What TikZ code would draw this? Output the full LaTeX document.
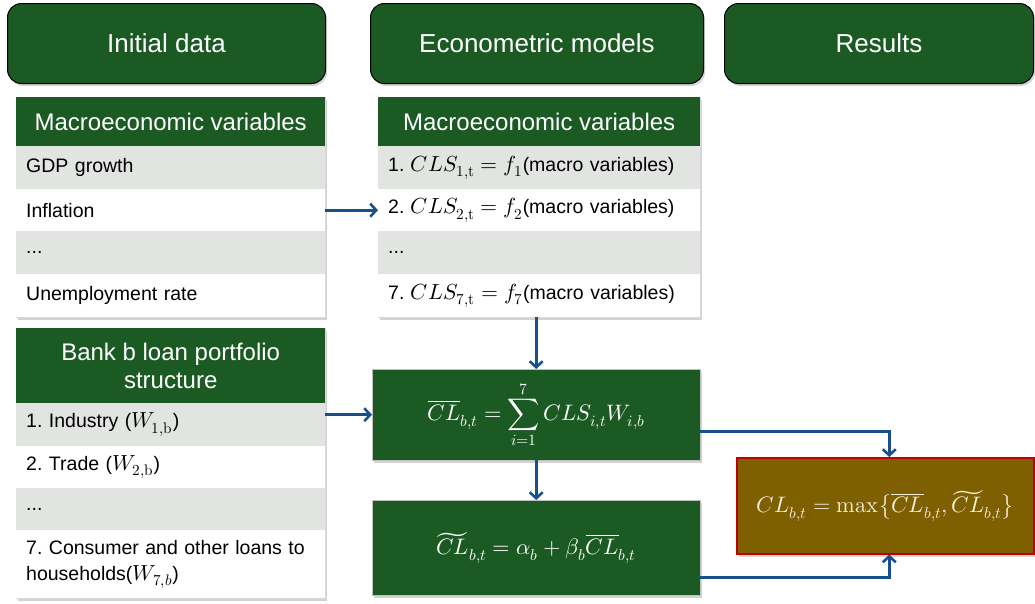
\documentclass[tikz,border=0pt]{standalone}
\usepackage{amsmath}
\usepackage{fontspec}
\usepackage{unicode-math}
\setmainfont{Liberation Sans}
\setmathfont{Latin Modern Math}[Scale=1.12]
\frenchspacing
\usetikzlibrary{arrows.meta,shadows}
\definecolor{dgreen}{HTML}{1C5A24}
\definecolor{rowgray}{HTML}{E1E4E1}
\definecolor{arrblue}{HTML}{18508C}
\definecolor{olivebox}{HTML}{7F6000}
\definecolor{redb}{HTML}{C00000}
\definecolor{cream}{HTML}{F3EEDC}
\newcommand{\mymax}{\mathop{\symup{max}}\nolimits}
\tikzset{
  hdr/.style={draw=black, line width=1pt, fill=dgreen, rounded corners=14pt, text=white,
    font=\fontsize{26}{30}\selectfont, anchor=north west, inner sep=0pt,
    drop shadow={shadow xshift=1.5pt, shadow yshift=-2.5pt, opacity=0.35}},
  tbg/.style={fill=white, draw=black!15, anchor=north west, inner sep=0pt,
    drop shadow={shadow xshift=2pt, shadow yshift=-3pt, opacity=0.35}},
  thead/.style={fill=dgreen, text=white, anchor=north west, inner sep=0pt, align=center,
    font=\fontsize{24}{28}\selectfont},
  cellg/.style={fill=rowgray, anchor=north west, inner xsep=10pt, inner ysep=0pt, align=left,
    font=\fontsize{19.5}{26}\selectfont},
  cellw/.style={cellg, fill=white},
  gbox/.style={fill=dgreen, draw=black!25, anchor=north west, inner sep=0pt, text=white,
    font=\fontsize{20}{24}\selectfont,
    drop shadow={shadow xshift=2pt, shadow yshift=-3pt, opacity=0.35}},
  rbox/.style={fill=olivebox, draw=redb, line width=1.5pt, anchor=north west, inner sep=0pt, text=cream,
    font=\fontsize{20}{24}\selectfont,
    drop shadow={shadow xshift=2pt, shadow yshift=-3pt, opacity=0.35}},
  arr/.style={draw=arrblue, line width=2.6pt, -{Straight Barb[length=6pt,width=13pt]}},
}
\begin{document}
\begin{tikzpicture}[x=1pt,y=-1pt]
\useasboundingbox (0,0) rectangle (1035,603);
% column headers
\node[hdr, minimum width=318pt, minimum height=80pt] (h1) at (7,3) {Initial data};
\node[hdr, minimum width=333pt, minimum height=80pt] (h2) at (370,3) {Econometric models};
\node[hdr, minimum width=309pt, minimum height=80pt] (h3) at (724,3) {Results};
% table 1
\node[tbg, minimum width=309pt, minimum height=220pt] (t1) at (16,97) {};
\node[thead, minimum width=309pt, minimum height=49pt] (t1h) at (16,97) {Macroeconomic variables};
\node[cellg, text width=289pt, minimum height=43pt] (t1a) at (16,146) {GDP growth};
\node[cellw, text width=289pt, minimum height=42pt] (t1b) at (16,189) {Inflation};
\node[cellg, text width=289pt, minimum height=43pt] (t1c) at (16,231) {...};
\node[cellw, text width=289pt, minimum height=43pt] (t1d) at (16,274) {Unemployment rate};
% table 2
\node[tbg, minimum width=309pt, minimum height=270pt] (t2) at (16,328) {};
\node[thead, minimum width=309pt, minimum height=75pt] (t2h) at (16,328) {Bank b loan portfolio\\structure};
\node[cellg, text width=289pt, minimum height=43pt] (t2a) at (16,403) {1. Industry ($W_{1,\symup{b}}$)};
\node[cellw, text width=289pt, minimum height=42pt] (t2b) at (16,446) {2. Trade ($W_{2,\symup{b}}$)};
\node[cellg, text width=289pt, minimum height=42pt] (t2c) at (16,488) {...};
\node[cellw, text width=289pt, minimum height=68pt] (t2d) at (16,530) {7. Consumer and other loans to\\households($W_{7,b}$)};
% middle table
\node[tbg, minimum width=322pt, minimum height=220pt] (t3) at (378,97) {};
\node[thead, minimum width=322pt, minimum height=49pt] (t3h) at (378,97) {Macroeconomic variables};
\node[cellg, text width=302pt, minimum height=43pt] (t3a) at (378,146) {1. $CLS_{1,\symup{t}} = f_1$(macro variables)};
\node[cellw, text width=302pt, minimum height=42pt] (t3b) at (378,189) {2. $CLS_{2,\symup{t}} = f_2$(macro variables)};
\node[cellg, text width=302pt, minimum height=43pt] (t3c) at (378,231) {...};
\node[cellw, text width=302pt, minimum height=43pt] (t3d) at (378,274) {7. $CLS_{7,\symup{t}} = f_7$(macro variables)};
% formula boxes
\node[gbox, minimum width=328pt, minimum height=91pt] (b1) at (372,369)
  {$\displaystyle \overline{CL}_{b,t} = \sum_{i=1}^{7} CLS_{i,t}W_{i,b}$};
\node[gbox, minimum width=328pt, minimum height=95pt] (b2) at (372,500)
  {$\widetilde{CL}_{b,t} = \alpha_b + \beta_b\overline{CL}_{b,t}$};
\node[rbox, minimum width=297pt, minimum height=96pt] (res) at (736,457)
  {$CL_{b,t} = \mymax\bigl\{\overline{CL}_{b,t}, \widetilde{CL}_{b,t}\bigr\}$};
% connectors
\draw[arr] (t1b.east) -- (t3b.west);
\draw[arr] (b1.west -| t2.east) -- (b1.west);
\draw[arr] (b1.north |- t3.south) -- (b1.north);
\draw[arr] (b1.south) -- (b2.north);
\draw[arr] ([yshift=-17pt]b1.east) -| ([xshift=4pt]res.north);
\draw[arr] ([yshift=-30pt]b2.east) -| ([xshift=4pt]res.south);
\end{tikzpicture}
\end{document}
